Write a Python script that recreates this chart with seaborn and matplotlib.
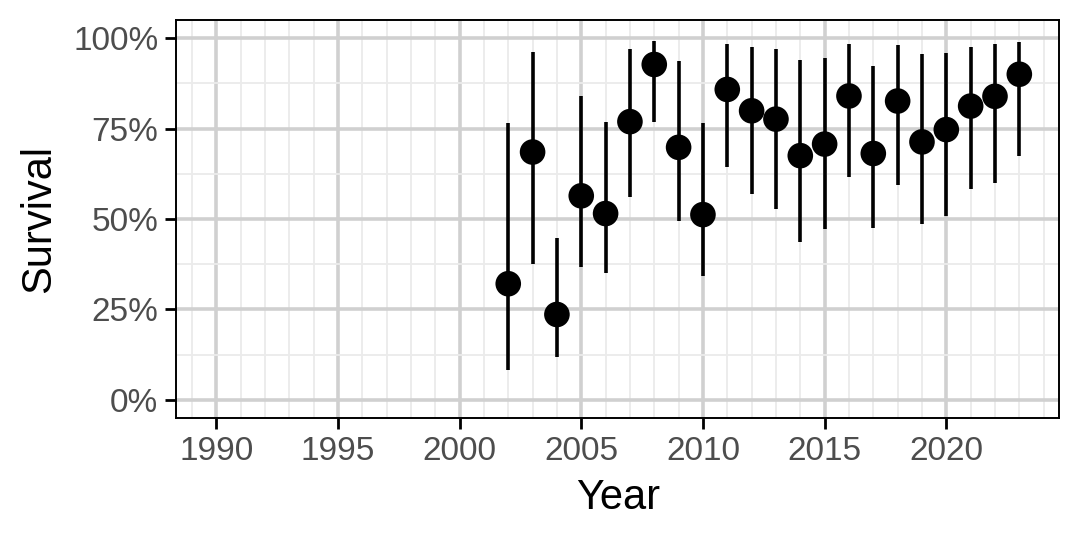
import numpy as np
import pandas as pd
import seaborn as sns
import matplotlib.pyplot as plt
from matplotlib.ticker import FixedLocator, MultipleLocator, PercentFormatter

# survival estimates with confidence limits
years = [2002, 2003, 2004, 2005, 2006, 2007, 2008, 2009, 2010, 2011, 2012,
         2013, 2014, 2015, 2016, 2017, 2018, 2019, 2020, 2021, 2022, 2023]
survival = [0.321, 0.685, 0.236, 0.564, 0.515, 0.769, 0.927, 0.698, 0.512, 0.858, 0.799,
            0.776, 0.675, 0.707, 0.840, 0.681, 0.826, 0.713, 0.747, 0.812, 0.839, 0.900]
lower = [0.083, 0.376, 0.119, 0.366, 0.350, 0.561, 0.769, 0.494, 0.343, 0.645, 0.569,
         0.528, 0.437, 0.471, 0.617, 0.474, 0.594, 0.487, 0.508, 0.584, 0.600, 0.674]
upper = [0.765, 0.962, 0.448, 0.840, 0.769, 0.970, 0.993, 0.936, 0.764, 0.983, 0.976,
         0.970, 0.939, 0.946, 0.983, 0.922, 0.980, 0.957, 0.960, 0.976, 0.983, 0.989]

df = pd.DataFrame({'Year': years, 'Survival': survival, 'lo': lower, 'hi': upper})

sns.set_theme(style='white')
plt.rcParams['font.family'] = ['Liberation Sans', 'DejaVu Sans']

fig = plt.figure(figsize=(10.8, 5.4), dpi=100)
ax = fig.add_axes([0.163, 0.226, 0.818, 0.737])

# error bars then points
ax.vlines(df['Year'], df['lo'], df['hi'], color='black', linewidth=2.6, zorder=3)
sns.scatterplot(data=df, x='Year', y='Survival', ax=ax, color='black', s=340,
                edgecolor='none', zorder=4, legend=False)

ax.set_xlim(1988.35, 2024.65)
ax.set_ylim(-0.05, 1.05)
ax.xaxis.set_major_locator(FixedLocator([1990, 1995, 2000, 2005, 2010, 2015, 2020]))
ax.xaxis.set_minor_locator(MultipleLocator(1))
ax.yaxis.set_major_locator(MultipleLocator(0.25))
ax.yaxis.set_minor_locator(MultipleLocator(0.125))
ax.yaxis.set_major_formatter(PercentFormatter(1.0, decimals=0))

ax.grid(which='major', color='#d0d0d0', linewidth=2.6, zorder=0)
ax.grid(which='minor', color='#ebebeb', linewidth=1.3, zorder=0)
ax.set_axisbelow(True)

for s in ax.spines.values():
    s.set_color('black')
    s.set_linewidth(1.4)

ax.tick_params(axis='both', which='major', length=7.7, width=2.0, color='black',
               labelsize=24, labelcolor='#4d4d4d', pad=5, bottom=True, left=True)
ax.tick_params(axis='both', which='minor', length=0)

ax.set_xlabel('Year', fontsize=30, color='black', labelpad=8)
ax.set_ylabel('Survival', fontsize=30, color='black', labelpad=10)

fig.savefig('out.png', dpi=100, facecolor='white')
